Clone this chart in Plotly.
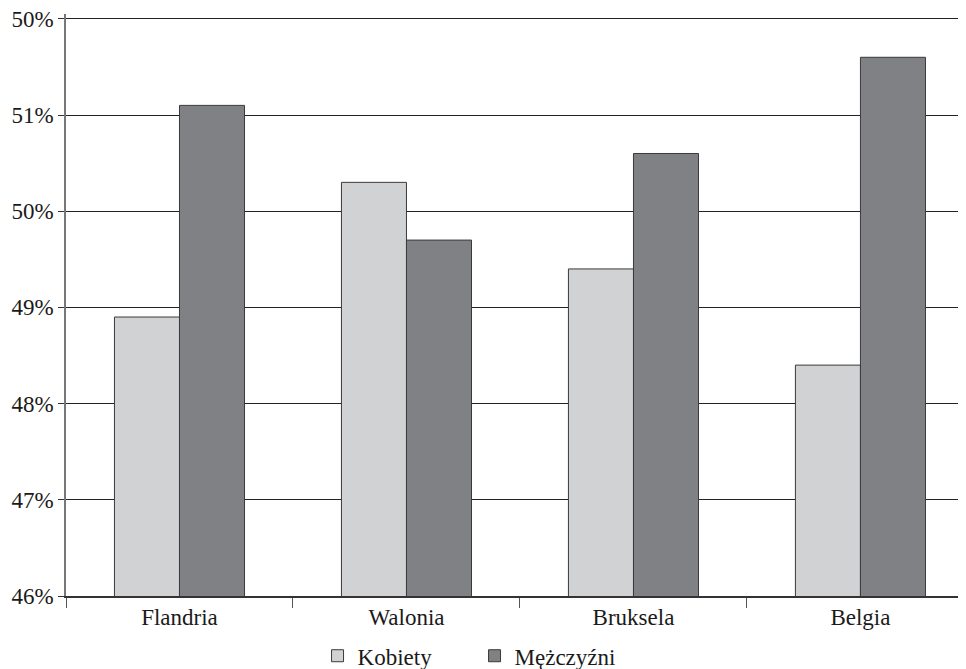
import plotly.graph_objects as go

categories = ["Flandria", "Walonia", "Bruksela", "Belgia"]
kobiety = [48.9, 50.3, 49.4, 48.4]
mezczyzni = [51.1, 49.7, 50.6, 51.6]
tick_vals = [46, 47, 48, 49, 50, 51, 52]
tick_text = ["46%", "47%", "48%", "49%", "50%", "51%", "50%"]

FONT = "Liberation Serif, Times New Roman, serif"
FS = 23

fig = go.Figure()
fig.add_trace(go.Bar(name="Kobiety", x=categories, y=kobiety, base=0,
                     marker=dict(color="#d1d2d4", line=dict(color="#3a3a3a", width=1))))
fig.add_trace(go.Bar(name="Mężczyźni", x=categories, y=mezczyzni, base=0,
                     marker=dict(color="#808184", line=dict(color="#3a3a3a", width=1))))

# page body has an 8px default margin, so the figure is sized to fit the window
fig.update_layout(
    width=958, height=661,
    margin=dict(l=58, r=0, t=6, b=73),
    paper_bgcolor="white", plot_bgcolor="white",
    barmode="group", bargap=0.427, bargroupgap=0,
    font=dict(family=FONT, size=FS, color="#1a1a1a"),
    legend=dict(orientation="h", xref="container", yref="container",
                x=0.487, xanchor="center", y=0.02, yanchor="middle",
                font=dict(family=FONT, size=FS), itemwidth=30,
                entrywidth=112, traceorder="normal"),
    showlegend=True,
)
fig.update_xaxes(
    range=[-0.5, 3.465], showline=True, linecolor="#333333", linewidth=1.5,
    ticks="outside", tickson="boundaries", ticklen=10, tickcolor="#555555",
    showgrid=False, tickfont=dict(family=FONT, size=FS),
)
fig.update_yaxes(
    range=[46, 52.05], tickvals=tick_vals, ticktext=tick_text,
    showline=True, linecolor="#777777", linewidth=1.5,
    ticks="outside", ticklen=6, tickcolor="#333333",
    showgrid=True, gridcolor="#222222", gridwidth=1, zeroline=False,
    tickfont=dict(family=FONT, size=FS), ticklabeloverflow="allow",
)

fig.write_html("out.html")
